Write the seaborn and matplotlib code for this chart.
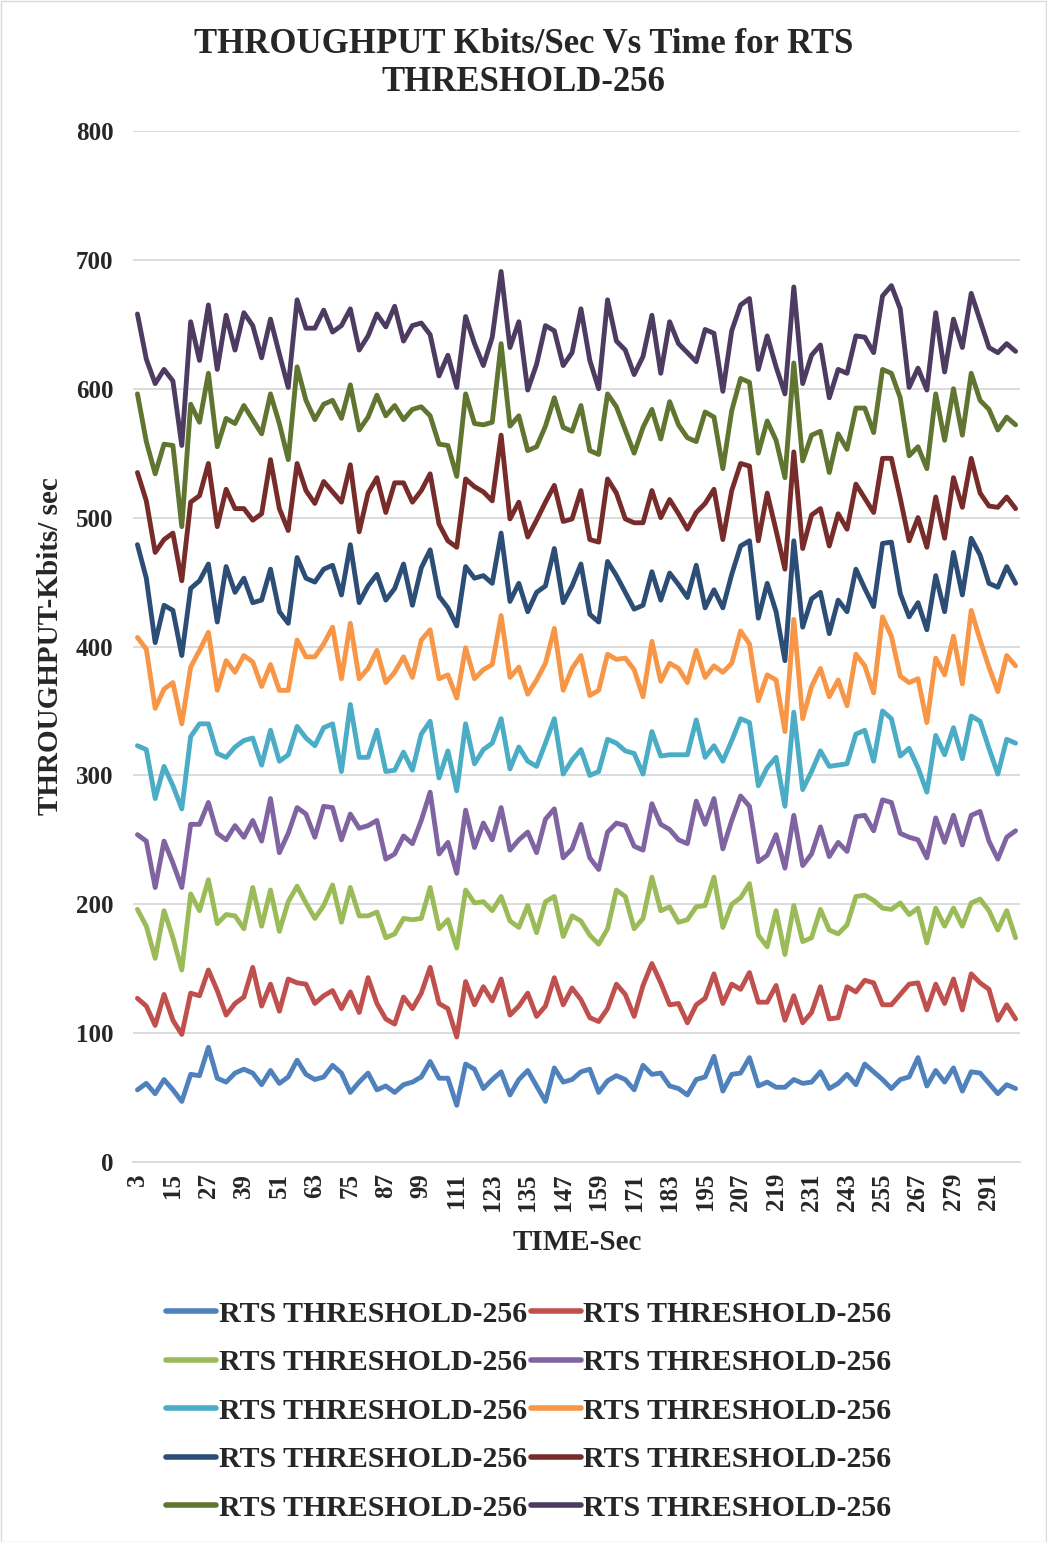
import matplotlib
matplotlib.use("Agg")
import matplotlib.pyplot as plt
from matplotlib.lines import Line2D
from matplotlib.patches import Rectangle
import seaborn as sns
import pandas as pd
import numpy as np

# ---------------- data ----------------
time_sec = list(range(3, 301, 3))  # 100 categories
tick_labels = [str(t) for t in range(3, 292, 12)]
series_label = "RTS THRESHOLD-256"

s1 = [56,61,53,64,56,47,68,67,89,65,62,69,72,69,60,71,61,66,79,68,64,66,75,69,54,62,
      69,56,59,54,60,62,66,78,65,65,44,76,72,57,64,70,52,64,71,59,47,73,62,64,70,72,
      54,63,67,64,56,75,68,69,59,57,52,64,66,82,55,68,69,81,59,62,58,58,64,61,62,70,
      57,61,68,60,76,70,64,57,64,66,81,59,71,62,73,55,70,69,61,53,60,57]
s2 = [127,121,106,130,110,99,131,129,149,133,114,123,128,151,121,138,117,142,139,138,123,129,133,119,132,116,
      143,123,111,107,128,119,131,151,123,119,97,140,122,136,125,142,114,121,131,113,121,143,122,135,126,112,
      109,119,138,130,113,137,154,139,122,123,108,122,127,146,123,138,134,147,124,124,137,110,129,108,116,136,
      111,112,136,132,141,139,122,122,130,138,139,118,138,123,142,118,146,139,134,110,122,111]
s3 = [196,183,158,195,174,149,208,195,219,185,192,191,181,213,183,211,179,202,214,201,189,199,215,186,213,191,
      191,194,174,177,189,188,189,213,181,188,166,211,201,202,195,206,187,182,199,178,202,206,175,191,187,176,
      169,181,211,206,181,189,221,195,198,186,188,198,199,221,182,200,205,216,176,167,195,161,199,171,174,196,
      180,177,184,206,207,203,197,196,201,192,197,170,197,183,197,183,201,204,195,180,195,174]
s4 = [254,249,213,249,232,213,262,262,279,255,250,261,252,265,249,282,240,255,275,270,252,276,275,250,270,259,
      261,265,235,239,253,247,265,287,239,248,224,273,244,263,250,275,242,250,256,240,266,274,236,243,262,236,
      227,256,263,261,245,242,278,262,258,250,247,280,262,282,243,265,284,276,233,238,254,228,269,230,239,260,
      237,248,241,268,269,257,281,279,255,252,250,236,267,248,269,246,269,272,249,235,252,257]
s5 = [323,320,282,307,292,274,330,340,340,317,314,322,327,329,308,335,311,316,338,329,323,337,340,303,355,314,
      314,335,303,304,318,304,332,342,298,319,288,340,309,320,325,344,305,322,311,307,325,344,301,312,320,300,
      303,328,325,319,317,301,334,315,316,316,316,343,314,323,311,327,344,341,292,306,314,276,349,289,303,319,
      307,308,309,332,335,311,350,344,315,321,306,287,331,316,337,313,346,342,321,301,328,325]
s6 = [407,398,352,367,372,340,384,397,411,366,389,380,393,388,369,386,366,366,405,392,392,402,415,375,418,375,
      383,397,372,380,392,376,405,413,375,378,360,399,375,382,386,424,376,384,363,374,387,414,366,383,393,362,
      366,394,390,391,382,361,404,373,387,383,372,397,376,385,380,387,412,402,358,378,374,334,421,344,369,383,
      361,374,354,394,385,364,423,408,377,372,375,341,391,378,408,371,428,405,384,365,393,385]
s7 = [479,453,403,432,428,393,445,451,464,419,462,442,453,434,436,460,427,418,469,453,450,460,463,440,479,434,
      447,456,436,445,464,432,461,475,439,430,416,462,453,455,449,488,435,449,427,442,447,476,434,447,464,425,
      419,466,455,442,429,432,458,436,457,448,438,463,430,444,430,456,478,482,422,449,427,389,482,415,437,442,
      410,436,427,460,445,431,480,481,441,423,434,413,455,427,473,440,484,471,449,446,462,449]
s8 = [535,513,473,483,488,451,512,517,542,493,522,507,507,498,503,545,507,490,542,521,511,528,520,512,541,489,
      519,531,504,527,527,512,521,534,495,482,477,530,524,520,513,564,499,512,485,498,512,525,497,499,521,483,
      481,530,519,499,496,496,521,500,514,503,491,504,511,522,483,521,542,540,482,519,490,460,551,476,502,507,
      478,503,491,526,515,504,546,546,515,482,500,477,516,484,531,508,546,519,509,508,516,507]
s9 = [596,559,534,557,556,493,588,574,612,555,577,573,587,576,565,596,573,545,617,591,576,588,591,577,603,568,
      578,595,579,587,576,584,586,579,557,556,532,596,573,572,574,635,571,579,552,555,571,593,570,567,587,552,
      549,596,586,568,550,570,584,561,590,572,562,559,582,578,538,583,608,605,550,575,560,531,620,544,564,567,
      535,565,553,585,585,566,615,612,593,548,555,538,596,560,600,564,612,591,584,568,578,572]
s10 = [658,623,604,615,606,556,652,622,665,615,657,630,659,649,624,654,627,601,669,647,647,661,644,649,662,630,
       641,658,648,664,637,649,651,642,610,626,601,656,635,618,640,691,632,652,599,619,649,645,618,628,662,622,
       600,669,637,630,611,625,657,612,652,635,628,621,646,643,598,645,665,670,615,641,617,596,679,604,626,634,
       593,615,612,641,640,628,672,680,662,601,616,599,659,613,654,632,674,653,632,628,635,629]

all_series = [s1, s2, s3, s4, s5, s6, s7, s8, s9, s10]
colors = ["#4F81BD", "#C0504D", "#9BBB59", "#8064A2", "#4BACC6",
          "#F79646", "#2C4D75", "#772C2A", "#5F7530", "#4D3B62"]

# ---------------- style ----------------
sns.set_style("white")
plt.rcParams["font.family"] = ["Liberation Serif", "DejaVu Serif"]
plt.rcParams["font.weight"] = "bold"

W, H = 1047, 1542
fig = plt.figure(figsize=(W / 100, H / 100), dpi=100)
L, R, T, B = 133, 1020, 131, 1162
ax = fig.add_axes([L / W, 1 - B / H, (R - L) / W, (B - T) / H])

pos = np.arange(len(time_sec))
for vals, col in zip(all_series, colors):
    df = pd.DataFrame({"pos": pos, "val": vals})
    sns.lineplot(data=df, x="pos", y="val", color=col, linewidth=3.5,
                 ax=ax, legend=False, solid_capstyle="round", solid_joinstyle="round")

ax.set_xlim(-0.5, len(time_sec) - 0.5)
ax.set_ylim(0, 800)
ax.set_yticks(range(0, 801, 100))
ax.set_yticklabels([str(v) for v in range(0, 801, 100)], fontsize=18, fontweight="bold")
ax.set_xticks(pos[::4])
ax.set_xticklabels(tick_labels, rotation=90, fontsize=18, fontweight="bold")
ax.tick_params(axis="y", length=0, pad=14)
ax.tick_params(axis="x", length=0, pad=8)
ax.grid(axis="y", color="#D9D9D9", linewidth=1.3)
ax.set_axisbelow(True)
for sp in ["top", "right", "left"]:
    ax.spines[sp].set_visible(False)
ax.spines["bottom"].set_color("#D9D9D9")
ax.spines["bottom"].set_linewidth(1.3)
ax.set_xlabel("")
ax.set_ylabel("")

fig.text(0.5, 1 - 28 / H, "THROUGHPUT Kbits/Sec Vs Time for RTS\nTHRESHOLD-256",
         ha="center", va="top", fontsize=25, fontweight="bold", linespacing=1.2)
fig.text(51 / W, 1 - 646 / H, "THROUGHPUT-Kbits/ sec", rotation=90,
         ha="center", va="center", fontsize=21, fontweight="bold")
fig.text(577 / W, 1 - 1242 / H, "TIME-Sec", ha="center", va="center",
         fontsize=21, fontweight="bold")

# legend: row-major order with 2 columns
order = [0, 2, 4, 6, 8, 1, 3, 5, 7, 9]
handles = [Line2D([0], [0], color=colors[k], linewidth=4) for k in order]
labels = [series_label] * len(order)
fig.legend(handles, labels, ncol=2, loc="upper center",
           bbox_to_anchor=(529 / W, 1 - 1286 / H), frameon=False,
           prop={"family": "Liberation Serif", "weight": "bold", "size": 21.5},
           handlelength=1.65, handletextpad=0.1, columnspacing=0.15,
           labelspacing=0.72, borderpad=0)

fig.patches.append(Rectangle((0.5 / W, 0.5 / H), 1 - 1.5 / W, 1 - 1.5 / H,
                             transform=fig.transFigure, fill=False,
                             edgecolor="#D9D9D9", linewidth=1))

fig.savefig("out.png", dpi=100)
